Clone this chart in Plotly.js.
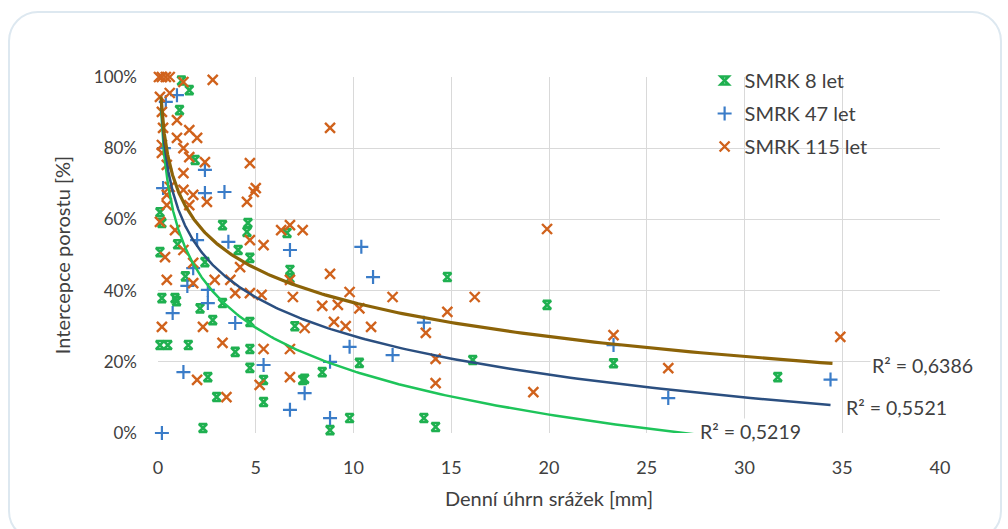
<!DOCTYPE html>
<html>
<head>
<meta charset="utf-8">
<script src="https://cdn.plot.ly/plotly-3.0.1.min.js"></script>
<style>
  html, body { margin: 0; padding: 0; background: #ffffff; }
  #frame { position: absolute; left: 8px; top: 11px; width: 994px; height: 530px;
           border: 2px solid #dde8f0; border-radius: 30px; box-sizing: border-box; }
  #chart { position: absolute; left: 0; top: 0; width: 1008px; height: 529px; }
</style>
</head>
<body>
<div id="frame"></div>
<div id="chart"></div>
<script>
// ---- data (x: daily precipitation [mm], y: interception [%]) ----
const seriesNames = ["SMRK 8 let", "SMRK 47 let", "SMRK 115 let"];
const r2Labels = ["R² = 0,5219", "R² = 0,5521", "R² = 0,6386"];

const green_x = [1.2, 1.6, 1.1, 1.9, 0.1, 0.2, 3.3, 4.6, 4.55, 6.6, 0.1, 4.1, 4.7, 6.75, 6.75, 1.0, 2.4, 1.4,
  0.2, 0.87, 0.95, 2.15, 3.3, 4.7, 2.8, 7.0, 0.1, 0.5, 1.55, 3.95, 4.7, 4.7, 2.55, 3.0, 5.4, 5.4, 7.4, 2.3,
  8.4, 7.5, 10.3, 16.1, 9.8, 8.8, 13.6, 14.2, 14.8, 19.9, 23.3, 31.7];
const green_y = [99, 96.3, 90.7, 76.7, 62, 59, 58.4, 59, 56.5, 56.2, 50.8, 51.4, 49.2, 45.8, 43.5, 53, 48, 44,
  37.9, 37.9, 37, 35, 36.5, 31.2, 31.7, 30, 24.7, 24.7, 24.7, 22.8, 23.6, 18.3, 15.7, 10.1, 14.9, 8.7, 14.9, 1.4,
  17.1, 15.2, 19.7, 20.5, 4.2, 0.8, 4.2, 1.7, 43.8, 36, 19.6, 15.7];

const blue_x = [0.97, 0.4, 0.3, 0.26, 2.4, 3.4, 2.4, 2.0, 3.6, 6.75, 1.8, 1.5, 2.55, 0.75, 2.55, 3.95, 1.3, 5.4,
  6.75, 7.5, 0.2, 10.4, 11.0, 9.8, 12.0, 8.8, 8.8, 13.6, 23.3, 26.1, 34.4];
const blue_y = [94.9, 93, 80, 68.8, 67.4, 67.7, 73.9, 54.2, 53.7, 51.4, 46.3, 41.3, 40.2, 33.7, 36.5, 30.9, 17.1, 19.1,
  6.5, 11.2, 0, 52.3, 43.8, 24.2, 21.9, 20, 4.2, 31, 24.7, 9.8, 15];

const orange_x = [0.05, 0.2, 0.4, 0.6, 1.3, 2.8, 0.1, 0.6, 0.2, 0.97, 0.26, 1.6, 0.97, 2.0, 0.2, 1.3, 0.2, 1.6,
  2.4, 4.7, 0.45, 1.3, 0.6, 5.0, 0.45, 1.3, 1.8, 2.5, 4.55, 4.9, 0.45, 1.6, 0.1, 0.87, 6.75, 7.4, 6.3, 4.7, 5.4,
  0.36, 4.2, 6.75, 1.3, 1.8, 0.45, 1.8, 2.9, 3.7, 4.7, 3.95, 6.9, 5.3, 8.8, 8.8, 9.8, 12.0, 16.2, 8.4, 9.2, 10.3,
  14.8, 9.0, 7.5, 9.6, 10.9, 13.7, 14.2, 14.2, 0.2, 2.3, 3.3, 5.4, 6.75, 2.0, 3.5, 5.2, 6.75, 19.9, 23.3, 26.1,
  19.2, 34.9];
const orange_y = [100, 100, 100, 100, 98.6, 99.2, 94.4, 95.5, 90.2, 87.9, 85.7, 85.1, 82.9, 82.9, 80.9, 80, 78.7, 77.5,
  76.1, 75.8, 75.3, 73, 69.1, 68.8, 66.9, 68.3, 66.9, 64.9, 64.9, 67.7, 64, 64, 59.3, 57, 58.4, 57, 57, 54.2, 52.8,
  49.4, 46.6, 43, 51.4, 47.8, 43, 42.1, 43, 43, 39.3, 39.3, 38.2, 38.8, 85.7, 44.7, 39.6, 38.2, 38.2, 35.7, 36, 35,
  34, 31.2, 29.5, 30, 29.8, 28.1, 20.8, 14, 29.8, 29.8, 25.3, 23.6, 23.6, 14.9, 10.1, 13.5, 15.7, 57.3, 27.5, 18.2,
  11.5, 27];

// logarithmic trend lines y = a*ln(x) + b, coefficients
const green_trend = {a: -17.6, b: 57.9, xFrom: 0.15, xTo: 31.7};
const blue_trend = {a: -15.7, b: 63.4, xFrom: 0.15, xTo: 34.4};
const orange_trend = {a: -13.8, b: 68.4, xFrom: 0.15, xTo: 34.5};

const xTicks = [0, 5, 10, 15, 20, 25, 30, 35, 40];
const yTicks = [0, 20, 40, 60, 80, 100];

function trendCurve(t) {
  const cx = [], cy = [];
  for (let i = 0; i <= 300; i++) {
    const x = t.xFrom * Math.pow(t.xTo / t.xFrom, i / 300);
    cx.push(x); cy.push(t.a * Math.log(x) + t.b);
  }
  return {cx, cy};
}

const font = "Lato, 'Open Sans', sans-serif";
const gFit = trendCurve(green_trend);
const bFit = trendCurve(blue_trend);
const oFit = trendCurve(orange_trend);

const traces = [
  {x: green_x, y: green_y, name: seriesNames[0], legendgroup: 'g', type: 'scatter', mode: 'markers', cliponaxis: false,
   marker: {symbol: 'hourglass-open', size: 8, color: '#1fb050', line: {width: 2.6, color: '#1fb050'}}},
  {x: blue_x, y: blue_y, name: seriesNames[1], legendgroup: 'b', type: 'scatter', mode: 'markers', cliponaxis: false,
   marker: {symbol: 'cross-thin-open', size: 10, color: '#3a7cc8', line: {width: 2.2, color: '#3a7cc8'}}},
  {x: orange_x, y: orange_y, name: seriesNames[2], legendgroup: 'o', type: 'scatter', mode: 'markers', cliponaxis: false,
   marker: {symbol: 'x-thin-open', size: 10, color: '#d0621c', line: {width: 2.4, color: '#d0621c'}}},
  {x: gFit.cx, y: gFit.cy, type: 'scatter', mode: 'lines', showlegend: false, hoverinfo: 'skip',
   line: {color: '#1ec45a', width: 2.5}},
  {x: bFit.cx, y: bFit.cy, type: 'scatter', mode: 'lines', showlegend: false, hoverinfo: 'skip',
   line: {color: '#2b4f80', width: 2.5}},
  {x: oFit.cx, y: oFit.cy, type: 'scatter', mode: 'lines', showlegend: false, hoverinfo: 'skip',
   line: {color: '#8c6308', width: 3.2}}
];

const layout = {
  width: 1008, height: 529,
  margin: {l: 158, r: 68, t: 77, b: 96},
  paper_bgcolor: 'rgba(0,0,0,0)', plot_bgcolor: '#ffffff',
  font: {family: font, color: '#404040', size: 16},
  showlegend: true,
  legend: {x: 0.699, xanchor: 'left', y: 1.045, yanchor: 'top', bgcolor: 'rgba(0,0,0,0)',
           font: {family: font, size: 20, color: '#404040'}, tracegroupgap: 4, itemwidth: 30},
  xaxis: {range: [0, 40], tickvals: xTicks, ticktext: xTicks.map(String), showgrid: true, gridcolor: '#d9d9d9',
          zeroline: false, showline: false, ticks: '', ticklabelstandoff: 22,
          tickfont: {family: font, size: 18, color: '#404040'},
          title: {text: 'Denní úhrn srážek [mm]', font: {family: font, size: 20, color: '#404040'}, standoff: 14}},
  yaxis: {range: [0, 100], tickvals: yTicks, ticktext: yTicks.map(v => v + '%'), showgrid: true, gridcolor: '#d9d9d9',
          zeroline: false, showline: false, ticks: '', ticklabelstandoff: 20,
          tickfont: {family: font, size: 17, color: '#404040'},
          title: {text: 'Intercepce porostu [%]', font: {family: font, size: 20, color: '#404040'}, standoff: 17}},
  shapes: [
    {type: 'rect', xref: 'paper', yref: 'paper', layer: 'between', x0: 0.661, x1: 1.02, y0: 0.767, y1: 1.05,
     fillcolor: '#ffffff', line: {width: 0}}
  ],
  annotations: [
    {x: 30.3, y: 0.3, xref: 'x', yref: 'y', text: r2Labels[0], showarrow: false, bgcolor: '#ffffff',
     font: {family: font, size: 19.5, color: '#404040'}},
    {x: 37.8, y: 7.3, xref: 'x', yref: 'y', text: r2Labels[1], showarrow: false, bgcolor: '#ffffff',
     font: {family: font, size: 19.5, color: '#404040'}},
    {x: 39.1, y: 19.1, xref: 'x', yref: 'y', text: r2Labels[2], showarrow: false, bgcolor: '#ffffff',
     font: {family: font, size: 19.5, color: '#404040'}}
  ]
};

Plotly.newPlot('chart', traces, layout, {displayModeBar: false, staticPlot: true});
</script>
</body>
</html>
